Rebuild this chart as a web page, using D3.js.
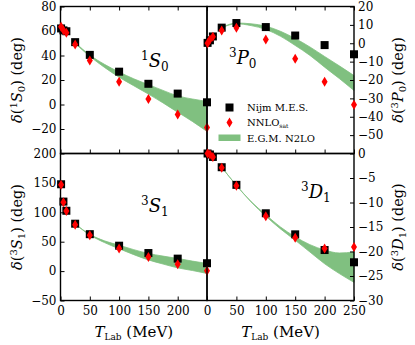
<!DOCTYPE html>
<html>
<head>
<meta charset="utf-8">
<script src="https://cdn.jsdelivr.net/npm/d3@7"></script>
<style>
  body { margin: 0; background: #fff; }
  svg text { font-family: "DejaVu Serif", serif; fill: #000; }
  .tick text { font-size: 12px; }
  .domain { display: none; }
  .tick line { stroke: #000; stroke-width: 1; }
</style>
</head>
<body>
<svg id="chart" width="415" height="345"></svg>
<script>
// energies (MeV) shared by both data sets
const tLab = [1, 5, 10, 25, 50, 100, 150, 200, 250];
// energies for the N2LO band
const tBand = [25, 50, 75, 100, 125, 150, 175, 200, 225, 250];

// 1S0
const nijm1S0 = [62.1, 60.5, 59.8, 50.9, 40.5, 26.8, 16.9, 8.9, 1.8];
const nnlo1S0 = [63.4, 60.7, 58.5, 49.0, 36.0, 18.5, 4.5, -8.2, -18.8];
const hi1S0 = [50.6, 40.4, 32.8, 26.5, 21.0, 16.2, 11.5, 7.0, 4.5, 2.5];
const lo1S0 = [49.8, 39.3, 30.3, 22.3, 15.3, 8.5, 1.3, -6.3, -13.8, -22.0];

// 3P0
const nijm3P0 = [0.2, 1.6, 3.7, 8.5, 11.0, 8.8, 4.2, -1.0, -6.0];
const nnlo3P0 = [0.0, 2.0, 3.5, 7.0, 8.5, 2.0, -8.5, -21.0, -33.5];
const hi3P0 = [8.6, 11.0, 10.6, 9.3, 6.5, 2.6, -2.0, -7.2, -12.3, -17.6];
const lo3P0 = [8.4, 10.6, 9.6, 7.5, 3.8, -1.2, -6.6, -13.0, -19.2, -25.7];

// 3S1
const nijm3S1 = [147.7, 118.2, 102.6, 80.6, 62.8, 43.2, 30.7, 21.2, 13.4];
const nnlo3S1 = [147.0, 117.0, 102.0, 79.0, 61.0, 38.5, 24.0, 11.5, 0.5];
const hi3S1 = [80.5, 62.5, 51.5, 44.0, 36.5, 30.0, 25.5, 21.5, 17.0, 13.0];
const lo3S1 = [80.0, 61.5, 48.5, 38.0, 28.0, 19.0, 12.0, 5.5, 1.0, -4.0];

// 3D1
const nijm3D1 = [0.0, -0.2, -0.7, -2.8, -6.4, -12.2, -16.5, -19.7, -22.2];
const nnlo3D1 = [0.0, -0.2, -0.7, -2.9, -6.6, -12.8, -17.2, -19.4, -19.1];
const hi3D1 = [-2.8, -6.5, -9.8, -12.5, -15.0, -17.0, -18.6, -19.7, -20.3, -20.1];
const lo3D1 = [-2.8, -6.5, -9.9, -12.8, -15.4, -17.7, -20.1, -22.5, -24.5, -26.3];

const xTicks = [0, 50, 100, 150, 200, 250];

const svg = d3.select("#chart");

// panel frame positions
const colX = [[60.5, 207], [207, 354]];
const rowY = [[6.5, 153.5], [153.5, 300.5]];

const panels = [
    { col: 0, row: 0, yDomain: [-40, 80], yTicks: [-20, 0, 20, 40, 60, 80],
      nijm: nijm1S0, nnlo: nnlo1S0, hi: hi1S0, lo: lo1S0,
      sup: "1", letter: "S", sub: "0", labelAt: [141, 67] },
    { col: 1, row: 0, yDomain: [-60, 20], yTicks: [-50, -40, -30, -20, -10, 0, 10, 20],
      nijm: nijm3P0, nnlo: nnlo3P0, hi: hi3P0, lo: lo3P0,
      sup: "3", letter: "P", sub: "0", labelAt: [229, 64] },
    { col: 0, row: 1, yDomain: [-50, 200], yTicks: [-50, 0, 50, 100, 150, 200],
      nijm: nijm3S1, nnlo: nnlo3S1, hi: hi3S1, lo: lo3S1,
      sup: "3", letter: "S", sub: "1", labelAt: [141, 212] },
    { col: 1, row: 1, yDomain: [-30, 0], yTicks: [-30, -25, -20, -15, -10, -5, 0],
      nijm: nijm3D1, nnlo: nnlo3D1, hi: hi3D1, lo: lo3D1,
      sup: "3", letter: "D", sub: "1", labelAt: [301, 198] }
];

const green = "#80c080";

panels.forEach(p => {
    const [x0, x1] = colX[p.col];
    const [y0, y1] = rowY[p.row];
    const x = d3.scaleLinear().domain([0, 250]).range([x0, x1]);
    const y = d3.scaleLinear().domain(p.yDomain).range([y1, y0]);
    const g = svg.append("g");

    // N2LO band
    const area = d3.area()
        .x((d, i) => x(tBand[i]))
        .y0((d, i) => y(p.lo[i]))
        .y1((d, i) => y(p.hi[i]))
        .curve(d3.curveMonotoneX);
    g.append("path")
        .datum(tBand)
        .attr("d", area)
        .attr("fill", green)
        .attr("stroke", green)
        .attr("stroke-width", 0.8);

    // inward ticks: bottom edge
    const bottom = d3.axisBottom(x).tickValues(xTicks).tickSize(-4).tickPadding(6)
        .tickFormat(p.row === 1 ? d3.format("d") : "");
    const bAx = g.append("g").attr("transform", `translate(0,${y1})`).call(bottom);
    if (p.row === 1 && p.col === 0) bAx.selectAll(".tick").filter(d => d === 250).select("text").remove();

    // top edge ticks for the upper panels
    if (p.row === 0) {
        g.append("g").attr("transform", `translate(0,${y0})`)
            .call(d3.axisTop(x).tickValues(xTicks).tickSize(-4).tickFormat(""));
    }

    // y axis on the outer side
    if (p.col === 0) {
        g.append("g").attr("transform", `translate(${x0},0)`)
            .call(d3.axisLeft(y).tickValues(p.yTicks).tickSize(-4).tickPadding(4));
    } else {
        g.append("g").attr("transform", `translate(${x1},0)`)
            .call(d3.axisRight(y).tickValues(p.yTicks).tickSize(-4).tickPadding(4));
    }

    // frame
    g.append("rect")
        .attr("x", x0).attr("y", y0)
        .attr("width", x1 - x0).attr("height", y1 - y0)
        .attr("fill", "none").attr("stroke", "#000").attr("stroke-width", 1.4);

    // Nijmegen squares
    g.selectAll(".sq").data(p.nijm).enter().append("rect")
        .attr("x", (d, i) => x(tLab[i]) - 4)
        .attr("y", d => y(d) - 4)
        .attr("width", 8).attr("height", 8)
        .attr("fill", "#000");

    // NNLOsat thin diamonds
    g.selectAll(".dm").data(p.nnlo).enter().append("path")
        .attr("transform", (d, i) => `translate(${x(tLab[i])},${y(d)})`)
        .attr("d", "M0,-5L3,0L0,5L-3,0Z")
        .attr("fill", "#f00");

    // partial-wave label
    const lab = svg.append("text")
        .attr("x", p.labelAt[0]).attr("y", p.labelAt[1])
        .style("font-size", "18px");
    lab.append("tspan").text(p.sup).style("font-size", "12px").attr("dy", -7);
    lab.append("tspan").text(p.letter).style("font-style", "italic").attr("dy", 7);
    lab.append("tspan").text(p.sub).style("font-size", "12px").attr("dy", 4);

    // y axis title
    const cx = p.col === 0 ? 17 : 398;
    const cy = (y0 + y1) / 2;
    const t = svg.append("text")
        .attr("transform", `translate(${cx},${cy}) rotate(-90)`)
        .attr("text-anchor", "middle")
        .attr("dy", "0.35em")
        .style("font-size", "14.5px");
    t.append("tspan").text("δ").style("font-style", "italic");
    t.append("tspan").text("(");
    t.append("tspan").text(p.sup).style("font-size", "10px").attr("dy", -5);
    t.append("tspan").text(p.letter).style("font-style", "italic").attr("dy", 5);
    t.append("tspan").text(p.sub).style("font-size", "10px").attr("dy", 3);
    t.append("tspan").text(") (deg)").attr("dy", -3);
});

// x axis titles
[0, 1].forEach(c => {
    const t = svg.append("text")
        .attr("x", (colX[c][0] + colX[c][1]) / 2)
        .attr("y", 337)
        .attr("text-anchor", "middle")
        .style("font-size", "15px");
    t.append("tspan").text("T").style("font-style", "italic");
    t.append("tspan").text("Lab").style("font-size", "9px").attr("dy", 3);
    t.append("tspan").text(" (MeV)").attr("dy", -3);
});

// legend inside the 3P0 panel
const legend = svg.append("g").style("font-size", "10px");
legend.append("rect").attr("x", 225.5).attr("y", 103.5).attr("width", 8).attr("height", 8).attr("fill", "#000");
legend.append("text").attr("x", 247).attr("y", 111).text("Nijm M.E.S.");
legend.append("path").attr("transform", "translate(229.5,122.5)").attr("d", "M0,-5L3,0L0,5L-3,0Z").attr("fill", "#f00");
const nl = legend.append("text").attr("x", 247).attr("y", 126);
nl.append("tspan").text("NNLO");
nl.append("tspan").text("sat").style("font-size", "6px").attr("dy", 2);
legend.append("rect").attr("x", 218.5).attr("y", 134.5).attr("width", 22).attr("height", 6.5).attr("fill", green);
legend.append("text").attr("x", 247).attr("y", 141.5).text("E.G.M. N2LO");
</script>
</body>
</html>
